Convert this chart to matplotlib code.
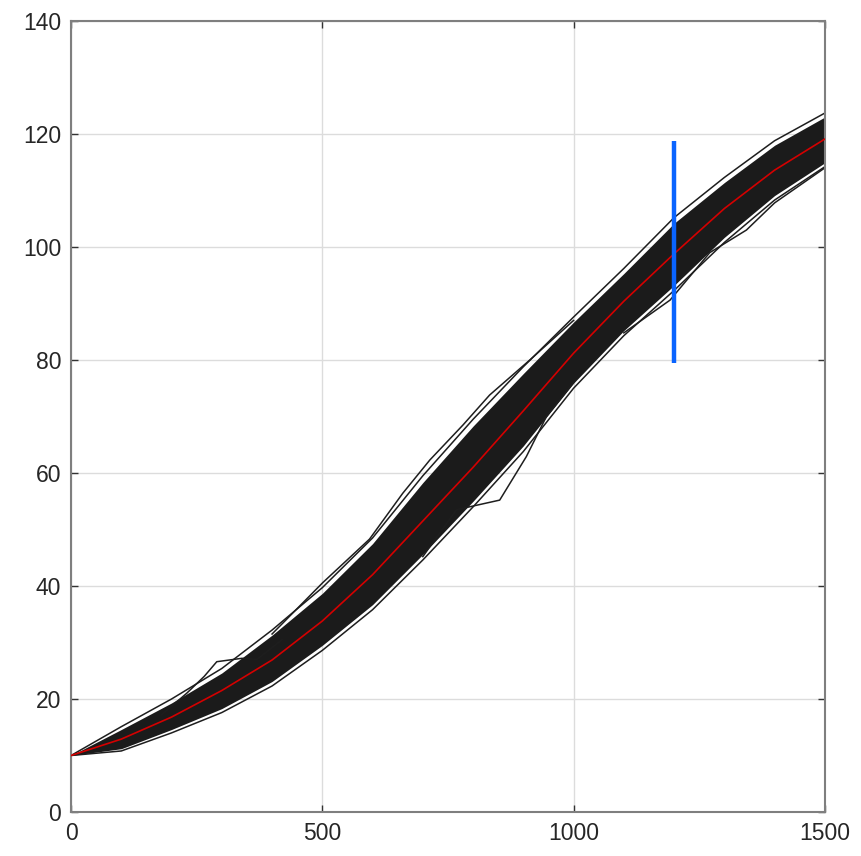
import matplotlib
matplotlib.use('Agg')
import matplotlib.pyplot as plt

plt.rcParams['font.family'] = ['Liberation Sans', 'DejaVu Sans']

# values (x = time step)
x_grid = [0, 100, 200, 300, 400, 500, 600, 700, 800, 900, 1000, 1100, 1200, 1300, 1400, 1500]
mean_path = [10, 12.9, 16.8, 21.5, 26.9, 33.8, 42.0, 51.5, 61.0, 71.0, 81.2, 90.4, 98.8, 106.8, 113.6, 119.1]
band_upper = [10, 15.1, 20.0, 25.4, 32.2, 39.7, 48.5, 59.5, 69.5, 78.8, 87.6, 96.2, 105.2, 112.3, 118.8, 123.7]
band_lower = [10, 10.8, 14.0, 17.6, 22.3, 28.6, 35.8, 44.6, 54.0, 63.8, 75.0, 84.3, 92.3, 100.8, 108.3, 114.2]
core_upper = [10, 14.6, 19.3, 24.6, 31.3, 38.7, 47.5, 58.3, 68.3, 77.6, 86.7, 95.3, 104.2, 111.4, 118.0, 123.0]
core_lower = [10, 11.2, 14.6, 18.3, 23.1, 29.5, 36.7, 45.6, 55.0, 64.8, 75.9, 85.2, 93.2, 101.7, 109.1, 114.9]

# a few stray paths that stand out of the band
stray_x1 = [180, 230, 265, 290, 340, 370, 420]
stray_y1 = [17.2, 21.0, 24.0, 26.6, 27.2, 27.0, 30.5]
stray_x2 = [400, 501, 594, 660, 714, 780, 833, 913, 1000]
stray_y2 = [31.5, 40.6, 48.3, 56.4, 62.3, 68.5, 73.8, 80.0, 87.0]
stray_x3 = [700, 767, 853, 906, 946, 1000]
stray_y3 = [45.2, 53.5, 55.2, 62.9, 70.0, 76.0]
stray_x4 = [1100, 1192, 1271, 1344, 1400, 1500]
stray_y4 = [84.8, 90.6, 99.0, 103.0, 107.8, 114.0]

marker_x = 1200
marker_lo, marker_hi = 79.5, 118.8

fig = plt.figure(figsize=(8.61, 8.56), dpi=100)
ax = fig.add_axes([0.0825, 0.0514, 0.8755, 0.9241])

ax.fill_between(x_grid, core_lower, core_upper, color='#1b1b1b', lw=0, zorder=2)
for xs, ys in [(x_grid, band_upper), (x_grid, band_lower),
               (stray_x1, stray_y1), (stray_x2, stray_y2),
               (stray_x3, stray_y3), (stray_x4, stray_y4)]:
    ax.plot(xs, ys, color='#1e1e1e', lw=1.1, zorder=2)
ax.plot(x_grid, mean_path, color='#d40000', lw=1.2, zorder=3)
ax.plot([marker_x, marker_x], [marker_lo, marker_hi], color='#0a64ff', lw=3.2,
        solid_capstyle='butt', zorder=4)

ax.set_xlim(0, 1500)
ax.set_ylim(0, 140)
ax.set_xticks([0, 500, 1000, 1500])
ax.set_yticks(range(0, 141, 20))
ax.grid(True, color='#dcdcdc', lw=1.0)
ax.set_axisbelow(True)
ax.tick_params(direction='in', top=True, right=True, length=5, width=1,
               color='#333333', labelsize=16.5, labelcolor='#262626', pad=7)
for s in ax.spines.values():
    s.set_color('#7f7f7f')
    s.set_linewidth(1.5)

fig.savefig('out.png', dpi=100)
